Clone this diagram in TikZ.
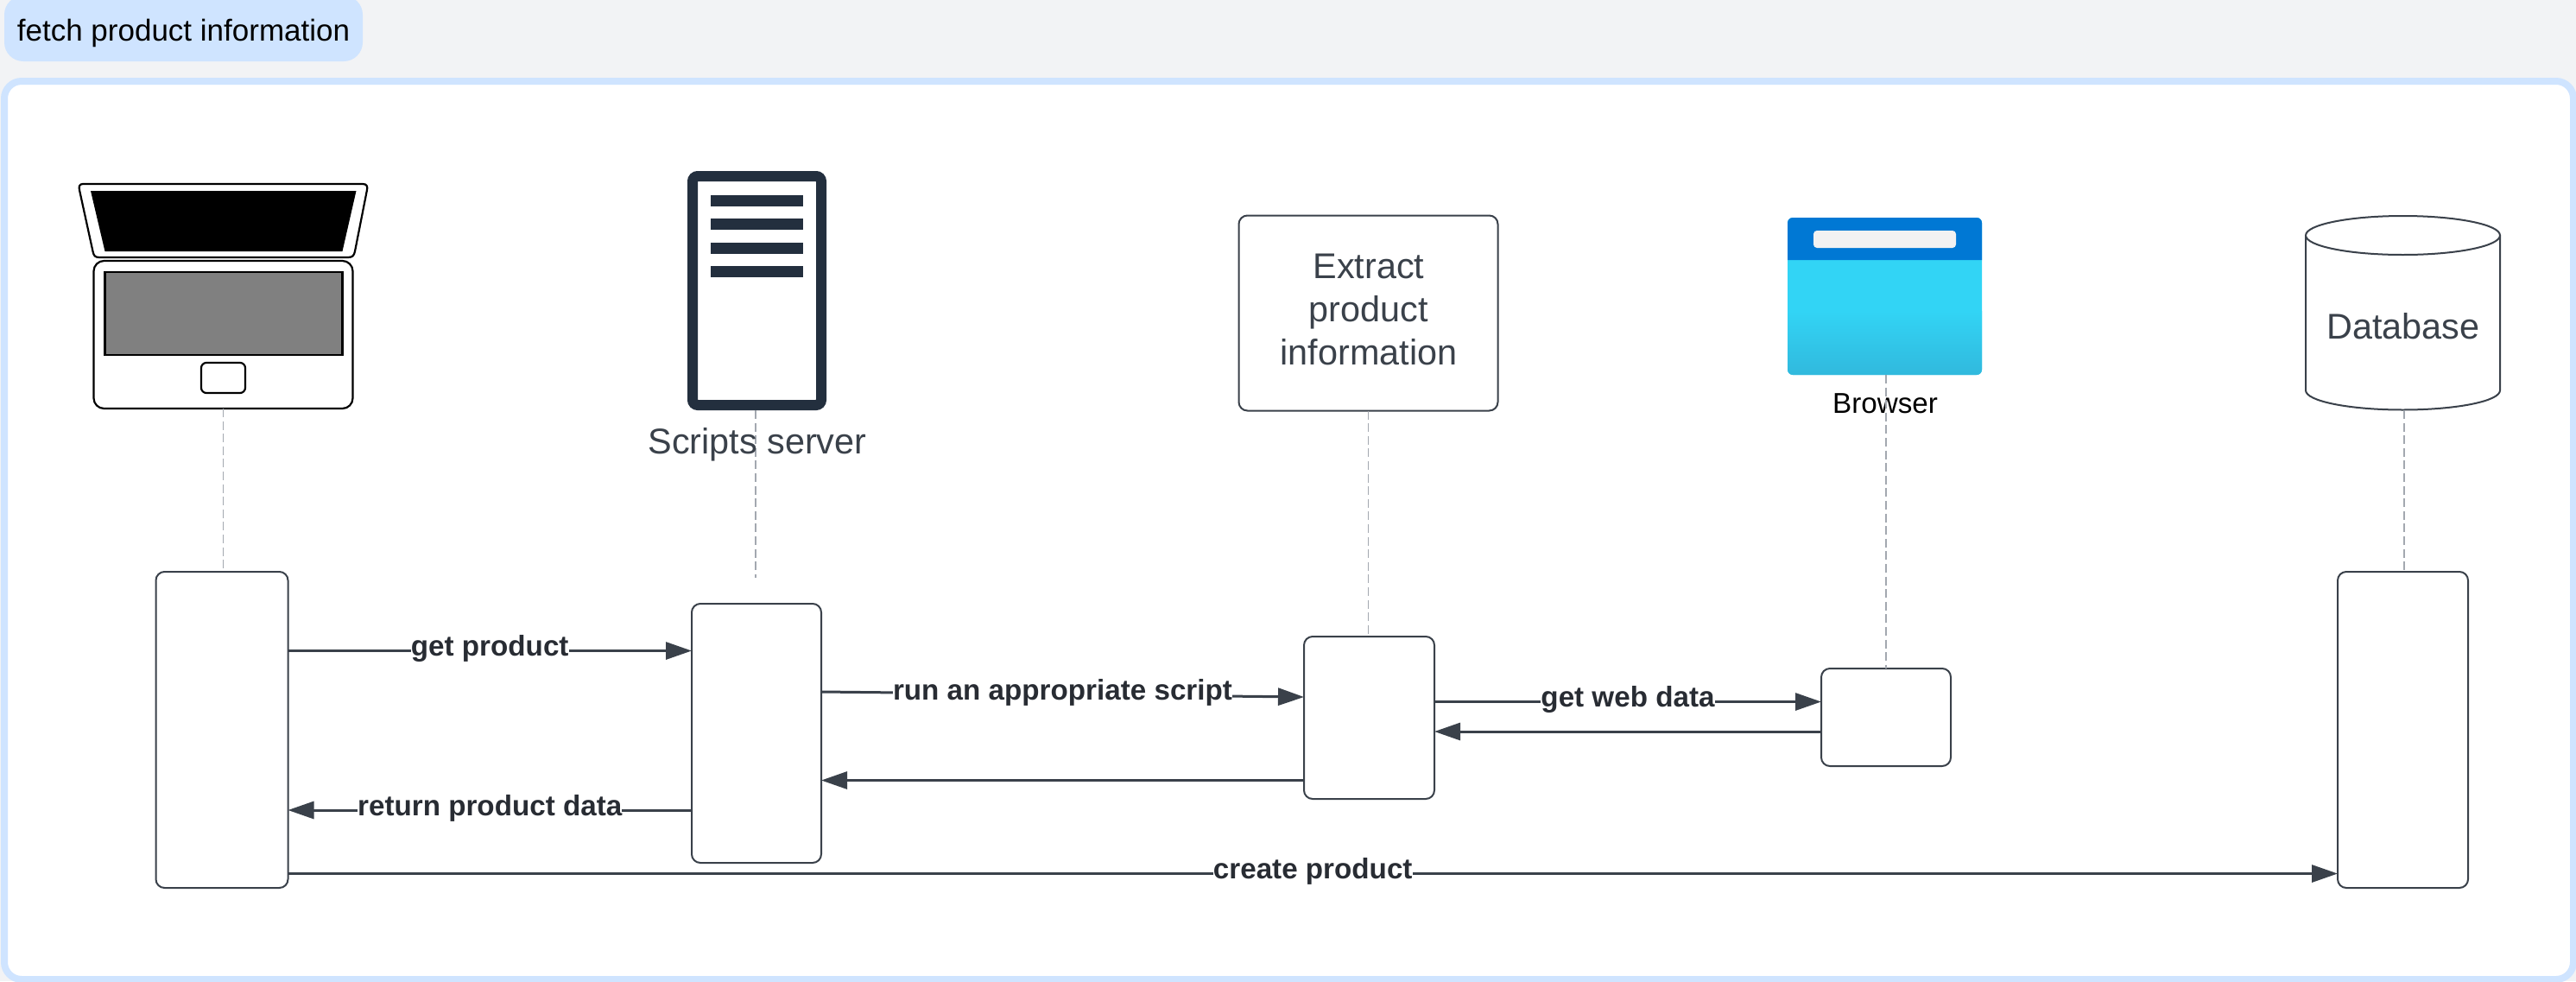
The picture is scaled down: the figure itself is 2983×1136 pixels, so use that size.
\documentclass[tikz,border=0pt]{standalone}
\usepackage{fontspec}
\setmainfont{Liberation Sans}
\usetikzlibrary{arrows.meta}
\definecolor{pagebg}{HTML}{F2F3F5}
\definecolor{chipblue}{HTML}{CFE4FF}
\definecolor{ink}{HTML}{3A414A}
\definecolor{labelink}{HTML}{282C33}
\definecolor{lifeline}{HTML}{A3A8B0}
\definecolor{servernavy}{HTML}{232F3E}
\definecolor{brdark}{HTML}{0078D4}
\definecolor{brlight}{HTML}{32D4F5}
\definecolor{brlow}{HTML}{31B9DD}
\definecolor{brbar}{HTML}{F2F2F2}
\definecolor{lapgrey}{HTML}{808080}
\tikzset{
  x=0.5pt,y=-0.5pt,
  every node/.style={outer sep=0pt},
  activation/.style={draw=ink,fill=white,line width=1pt,rounded corners=5pt,inner sep=0pt,anchor=north west},
  msg/.style={draw=ink,line width=1.5pt,-{Triangle[length=15pt,width=10pt]}},
  msglabel/.style={font=\fontsize{16.6pt}{20pt}\selectfont\bfseries,text=labelink,fill=white,inner sep=0pt,text height=12pt,text depth=6pt},
  life/.style={draw=lifeline,line width=0.9pt,dash pattern=on 5pt off 2.3pt},
  headtext/.style={font=\fontsize{20.7pt}{25pt}\selectfont,text=ink,anchor=base,inner sep=0pt},
  lapline/.style={draw=black,line width=1.1pt},
}
\begin{document}
\begin{tikzpicture}
\useasboundingbox (0,0) rectangle (2983,1136);
\fill[pagebg] (0,0) rectangle (2983,1136);
% title chip
\node[fill=chipblue,rounded corners=11pt,inner sep=0pt,anchor=north west,minimum width=207.5pt,minimum height=38pt] (chip) at (5,-5) {};
\node[anchor=base,inner sep=0pt,font=\fontsize{17.5pt}{20pt}\selectfont,text=black] (chiptext) at (212.5,47) {fetch product information};
% frame
\node[draw=chipblue,fill=white,line width=4pt,rounded corners=10pt,inner sep=0pt,anchor=north west,minimum width=1487.5pt,minimum height=520pt] (frame) at (5,94) {};
% laptop
\draw[lapline,fill=white] (96,213) -- (420,213) .. controls (425,213) and (425.8,216) .. (425,220) -- (411,291) .. controls (410,296) and (408,298) .. (403,298) -- (115,298) .. controls (110,298) and (108.5,296) .. (107.5,291) -- (92,220) .. controls (91,216) and (92,213) .. (96,213) -- cycle;
\fill[black] (105,221) -- (412.5,221) -- (396.5,291) -- (121.5,291) -- cycle;
\node[lapline,fill=white,rounded corners=6pt,inner sep=0pt,anchor=north west,minimum width=150pt,minimum height=85.5pt] (laptop) at (108.5,302) {};
\draw[lapline,fill=lapgrey] (121.5,315) rectangle (396.5,411);
\node[lapline,fill=white,rounded corners=3pt,inner sep=0pt,anchor=north west,minimum width=25.5pt,minimum height=17.5pt] (pad) at (233,420) {};
% server icon
\node[draw=servernavy,line width=6pt,fill=white,rounded corners=3pt,inner sep=0pt,anchor=north west,minimum width=74.5pt,minimum height=132.5pt] (server) at (802,204) {};
\fill[servernavy] (823,226) rectangle (930,239);
\fill[servernavy] (823,253) rectangle (930,266);
\fill[servernavy] (823,281) rectangle (930,294);
\fill[servernavy] (823,308) rectangle (930,321);
\coordinate (serverfoot) at (875,475);
% extract box
\node[draw=ink,fill=white,line width=1pt,rounded corners=5pt,inner sep=0pt,anchor=north west,minimum width=150pt,minimum height=113pt] (extract) at (1434.5,249.5) {};
\node[headtext] (extractA) at (1585,322) {Extract};
\node[headtext] (extractB) at (1585,372) {product};
\node[headtext] (extractC) at (1585,422) {information};
% browser icon
\node[fill=brlight,rounded corners=3pt,inner sep=0pt,anchor=north west,minimum width=112.5pt,minimum height=91pt] (browser) at (2070,252) {};
\shade[top color=brlight,bottom color=brlow] (2070,360) [rounded corners=3pt] -- (2070,434) -- (2295,434) [sharp corners] -- (2295,360) -- cycle;
\fill[brdark] (2070,301) [rounded corners=3pt] -- (2070,252) -- (2295,252) [sharp corners] -- (2295,301) -- cycle;
\fill[brbar,rounded corners=2pt] (2100,267) rectangle (2265,287);
\node[anchor=base,inner sep=0pt,font=\fontsize{16.6pt}{20pt}\selectfont,text=black] (browsertext) at (2183,478) {Browser};
% database
\draw[draw=ink,line width=1pt,fill=white] (2670,272.5) -- (2670,452) arc[start angle=180,end angle=360,x radius=56.25pt,y radius=11.25pt] -- (2895,272.5);
\draw[draw=ink,line width=1pt,fill=white] (2782.5,272.5) ellipse[x radius=56.25pt,y radius=11.25pt];
\node[headtext] (database) at (2783,392) {Database};
\coordinate (dbfoot) at (2784,475);
% activation boxes
\node[activation,minimum width=76.5pt,minimum height=183pt] (act1) at (180.5,662) {};
\node[activation,minimum width=75pt,minimum height=150pt] (act2) at (801,699) {};
\node[activation,minimum width=75.5pt,minimum height=94pt] (act3) at (1510,737) {};
\node[activation,minimum width=75pt,minimum height=56.5pt] (act4) at (2109,774) {};
\node[activation,minimum width=75.5pt,minimum height=183pt] (act5) at (2707,662) {};
% lifelines
\draw[life] (laptop.south) -- (laptop.south |- act1.north);
\coordinate (serverend) at (875,669);
\draw[life] (serverfoot) -- (serverend);
\node[headtext] (servertext) at (877,525) {Scripts server};
\draw[life] (extract.south) -- (extract.south |- act3.north);
\coordinate (browserfoot) at (2184,434);
\draw[life] (browserfoot) -- (browserfoot |- act4.north);
\draw[life] (dbfoot) -- (dbfoot |- act5.north);
% messages
\draw[msg] (act1.east |- 0,753.5) -- node[msglabel] (lgp) {get product} (act2.west |- 0,753.5);
\draw[msg] (act2.west |- 0,938) -- node[msglabel] (lrp) {return product data} (act1.east |- 0,938);
\draw[msg] (act2.east |- 0,801) -- node[msglabel] (lrs) {run an appropriate script} (act3.west |- 0,807);
\draw[msg] (act3.west |- 0,903.5) -- (act2.east |- 0,903.5);
\draw[msg] (act3.east |- 0,812.5) -- node[msglabel] (lgw) {get web data} (act4.west |- 0,812.5);
\draw[msg] (act4.west |- 0,847) -- (act3.east |- 0,847);
\draw[msg] (act1.east |- 0,1011.5) -- node[msglabel] (lcp) {create product} (act5.west |- 0,1011.5);
\end{tikzpicture}
\end{document}
